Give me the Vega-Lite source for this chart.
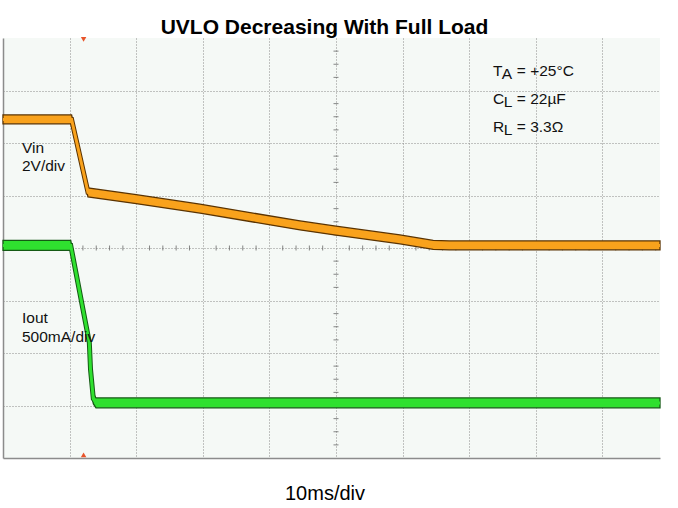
{
  "$schema": "https://vega.github.io/schema/vega-lite/v6.json",
  "width": 657,
  "height": 420,
  "autosize": "none",
  "padding": {"left": 3, "top": 38, "right": 18, "bottom": 50},
  "background": "#ffffff",
  "title": {"text": "UVLO Decreasing With Full Load", "font": "Liberation Sans", "fontSize": 21, "fontWeight": "bold", "color": "#000000", "offset": 4, "baseline": "alphabetic", "dx": -7, "dy": 22},
  "config": {"view": {"fill": "#f5f9f6", "stroke": null}},
  "datasets": {
    "vin": [
      {"d": 0, "v": 6.45, "hi": 6.535, "lo": 6.365},
      {"d": 1.03, "v": 6.45, "hi": 6.535, "lo": 6.365},
      {"d": 1.276, "v": 5.06, "hi": 5.145, "lo": 4.975},
      {"d": 2.0, "v": 4.93, "hi": 5.015, "lo": 4.845},
      {"d": 2.958, "v": 4.75, "hi": 4.835, "lo": 4.665},
      {"d": 4.46, "v": 4.43, "hi": 4.515, "lo": 4.345},
      {"d": 5.0, "v": 4.33, "hi": 4.415, "lo": 4.245},
      {"d": 5.96, "v": 4.165, "hi": 4.25, "lo": 4.08},
      {"d": 6.46, "v": 4.06, "hi": 4.145, "lo": 3.975},
      {"d": 6.7, "v": 4.05, "hi": 4.135, "lo": 3.965},
      {"d": 9.865, "v": 4.05, "hi": 4.135, "lo": 3.965}
    ],
    "iout": [
      {"d": 0, "v": 4.05, "hi": 4.145, "lo": 3.955},
      {"d": 1.017, "v": 4.05, "hi": 4.145, "lo": 3.955},
      {"d": 1.296, "v": 2.2, "hi": 2.295, "lo": 2.105},
      {"d": 1.314, "v": 1.69, "hi": 1.785, "lo": 1.595},
      {"d": 1.356, "v": 1.13, "hi": 1.225, "lo": 1.035},
      {"d": 1.396, "v": 1.05, "hi": 1.145, "lo": 0.955},
      {"d": 9.865, "v": 1.05, "hi": 1.145, "lo": 0.955}
    ],
    "ticksH": [
      {"d": 0.2, "v": 4}, {"d": 0.4, "v": 4}, {"d": 0.6, "v": 4}, {"d": 0.8, "v": 4},
      {"d": 1.2, "v": 4}, {"d": 1.4, "v": 4}, {"d": 1.6, "v": 4}, {"d": 1.8, "v": 4},
      {"d": 2.2, "v": 4}, {"d": 2.4, "v": 4}, {"d": 2.6, "v": 4}, {"d": 2.8, "v": 4},
      {"d": 3.2, "v": 4}, {"d": 3.4, "v": 4}, {"d": 3.6, "v": 4}, {"d": 3.8, "v": 4},
      {"d": 4.2, "v": 4}, {"d": 4.4, "v": 4}, {"d": 4.6, "v": 4}, {"d": 4.8, "v": 4},
      {"d": 5.2, "v": 4}, {"d": 5.4, "v": 4}, {"d": 5.6, "v": 4}, {"d": 5.8, "v": 4},
      {"d": 6.2, "v": 4}, {"d": 6.4, "v": 4}, {"d": 6.6, "v": 4}, {"d": 6.8, "v": 4},
      {"d": 7.2, "v": 4}, {"d": 7.4, "v": 4}, {"d": 7.6, "v": 4}, {"d": 7.8, "v": 4},
      {"d": 8.2, "v": 4}, {"d": 8.4, "v": 4}, {"d": 8.6, "v": 4}, {"d": 8.8, "v": 4},
      {"d": 9.2, "v": 4}, {"d": 9.4, "v": 4}, {"d": 9.6, "v": 4}, {"d": 9.8, "v": 4}
    ],
    "ticksV": [
      {"d": 5, "v": 0.25}, {"d": 5, "v": 0.5}, {"d": 5, "v": 0.75},
      {"d": 5, "v": 1.25}, {"d": 5, "v": 1.5}, {"d": 5, "v": 1.75},
      {"d": 5, "v": 2.25}, {"d": 5, "v": 2.5}, {"d": 5, "v": 2.75},
      {"d": 5, "v": 3.25}, {"d": 5, "v": 3.5}, {"d": 5, "v": 3.75},
      {"d": 5, "v": 4.25}, {"d": 5, "v": 4.5}, {"d": 5, "v": 4.75},
      {"d": 5, "v": 5.25}, {"d": 5, "v": 5.5}, {"d": 5, "v": 5.75},
      {"d": 5, "v": 6.25}, {"d": 5, "v": 6.5}, {"d": 5, "v": 6.75},
      {"d": 5, "v": 7.25}, {"d": 5, "v": 7.5}, {"d": 5, "v": 7.75}
    ],
    "labels": [
      {"d": 0.285, "v": 5.813, "t": "Vin"},
      {"d": 0.285, "v": 5.463, "t": "2V/div"},
      {"d": 0.285, "v": 2.562, "t": "Iout"},
      {"d": 0.285, "v": 2.206, "t": "500mA/div"},
      {"d": 7.357, "v": 7.267, "t": "T"},
      {"d": 7.357, "v": 6.743, "t": "C"},
      {"d": 7.357, "v": 6.219, "t": "R"},
      {"d": 7.715, "v": 7.267, "t": "= +25°C"},
      {"d": 7.715, "v": 6.743, "t": "= 22µF"},
      {"d": 7.715, "v": 6.219, "t": "= 3.3Ω"}
    ],
    "subs": [
      {"d": 7.49, "v": 7.267, "t": "A"},
      {"d": 7.52, "v": 6.743, "t": "L"},
      {"d": 7.52, "v": 6.219, "t": "L"}
    ],
    "trig": [
      {"d": 1.21, "v": 7.975, "s": "triangle-down"},
      {"d": 1.21, "v": 0.06, "s": "triangle-up"}
    ]
  },
  "encoding": {
    "x": {"field": "d", "type": "quantitative", "scale": {"domain": [0, 9.865], "nice": false, "zero": false},
      "axis": {"title": "10ms/div", "values": [1, 2, 3, 4, 5, 6, 7, 8, 9], "grid": true, "gridColor": "#8a8a8a", "gridDash": [1, 2], "gridWidth": 1, "ticks": false, "labels": false, "domain": true, "domainColor": "#8c8c8c", "domainWidth": 1.5, "titleFont": "Liberation Sans", "titleFontSize": 20, "titleFontWeight": "normal", "titleColor": "#000000", "titleBaseline": "alphabetic", "titlePadding": 41, "titleX": 321.5}},
    "y": {"field": "v", "type": "quantitative", "scale": {"domain": [0, 8], "nice": false, "zero": false},
      "axis": {"title": null, "values": [1, 2, 3, 4, 5, 6, 7], "grid": true, "gridColor": "#8a8a8a", "gridDash": [1, 2], "gridWidth": 1, "ticks": false, "labels": false, "domain": true, "domainColor": "#8c8c8c", "domainWidth": 1.5}}
  },
  "layer": [
    {"data": {"name": "ticksH"}, "mark": {"type": "tick", "orient": "vertical", "size": 5, "thickness": 1, "color": "#555555"}},
    {"data": {"name": "ticksV"}, "mark": {"type": "tick", "orient": "horizontal", "size": 5, "thickness": 1, "color": "#555555"}},
    {"data": {"name": "vin"}, "mark": {"type": "line", "color": "#5b3300", "strokeWidth": 5}},
    {"data": {"name": "vin"}, "mark": {"type": "area", "color": "#f9a21c", "fillOpacity": 1, "stroke": "#5b3300", "strokeWidth": 1.3},
      "encoding": {"y": {"field": "hi", "type": "quantitative", "axis": {"title": null, "values": [1, 2, 3, 4, 5, 6, 7], "grid": true, "gridColor": "#8a8a8a", "gridDash": [1, 2], "gridWidth": 1, "ticks": false, "labels": false, "domain": true, "domainColor": "#8c8c8c", "domainWidth": 1.5}}, "y2": {"field": "lo"}}},
    {"data": {"name": "vin"}, "mark": {"type": "line", "color": "#f9a21c", "strokeWidth": 3}},
    {"data": {"name": "iout"}, "mark": {"type": "line", "color": "#145a14", "strokeWidth": 5}},
    {"data": {"name": "iout"}, "mark": {"type": "area", "color": "#2fe02f", "fillOpacity": 1, "stroke": "#145a14", "strokeWidth": 1.3},
      "encoding": {"y": {"field": "hi", "type": "quantitative", "axis": {"title": null, "values": [1, 2, 3, 4, 5, 6, 7], "grid": true, "gridColor": "#8a8a8a", "gridDash": [1, 2], "gridWidth": 1, "ticks": false, "labels": false, "domain": true, "domainColor": "#8c8c8c", "domainWidth": 1.5}}, "y2": {"field": "lo"}}},
    {"data": {"name": "iout"}, "mark": {"type": "line", "color": "#2fe02f", "strokeWidth": 3}},
    {"data": {"name": "trig"}, "mark": {"type": "point", "filled": true, "color": "#e8542a", "size": 30, "opacity": 1},
      "encoding": {"shape": {"field": "s", "type": "nominal", "scale": null}}},
    {"data": {"name": "labels"}, "mark": {"type": "text", "align": "left", "baseline": "alphabetic", "font": "Liberation Sans", "fontSize": 15.5, "color": "#111111"},
      "encoding": {"text": {"field": "t"}}},
    {"data": {"name": "subs"}, "mark": {"type": "text", "align": "left", "baseline": "alphabetic", "font": "Liberation Sans", "fontSize": 15.5, "color": "#111111", "dy": 3},
      "encoding": {"text": {"field": "t"}}}
  ]
}
